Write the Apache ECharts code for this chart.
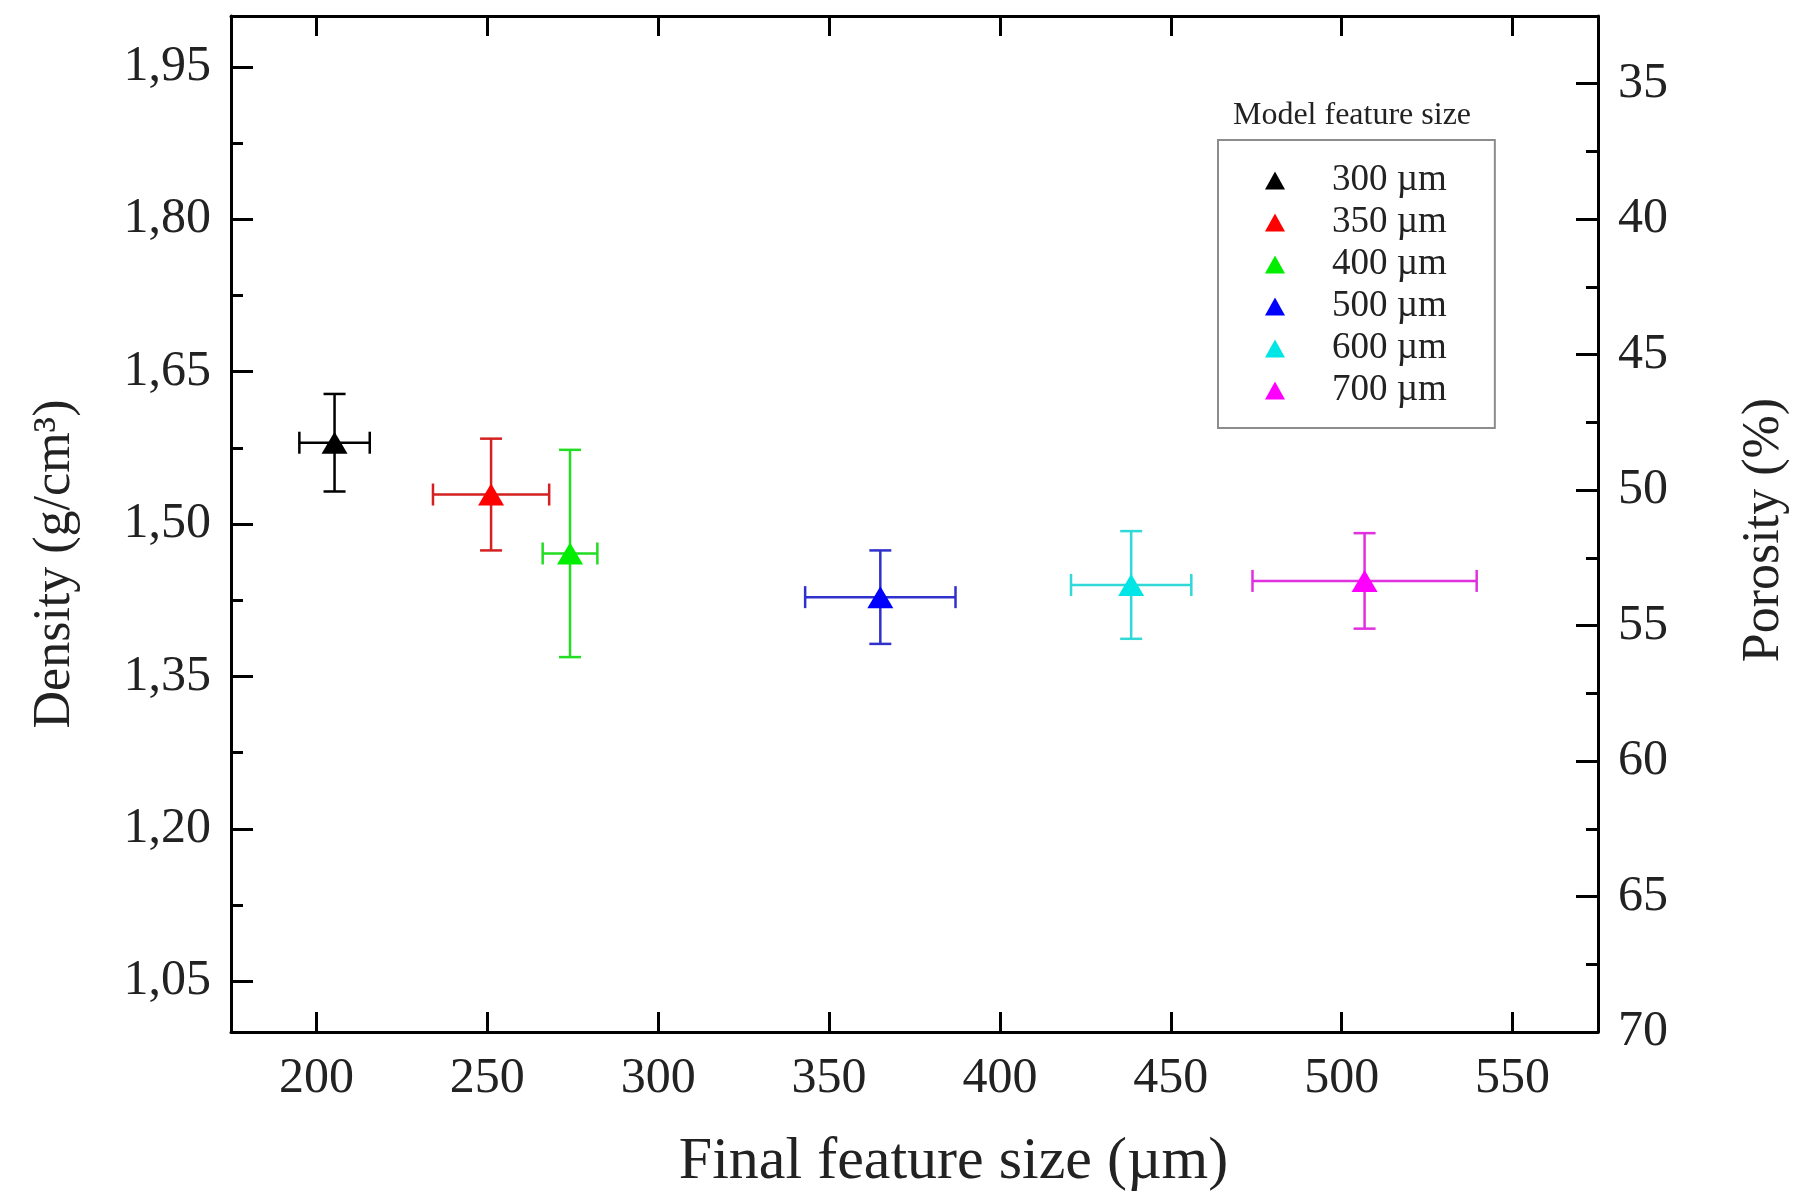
<!DOCTYPE html>
<html>
<head>
<meta charset="utf-8">
<title>Density vs final feature size</title>
<script src="https://cdn.jsdelivr.net/npm/echarts@6/dist/echarts.min.js"></script>
<style>
  html, body { margin: 0; padding: 0; background: #fff; }
  #chart { width: 1798px; height: 1199px; }
</style>
</head>
<body>
<div id="chart"></div>
<script>
  // model feature sizes (legend)
  var modelSizes = ['300 µm', '350 µm', '400 µm', '500 µm', '600 µm', '700 µm']
  var colors = ['#000000', '#ff0000', '#00ee00', '#0000ff', '#00e5e5', '#ff00ff']
  var barColors = ['#000000', '#d42020', '#22dd22', '#3030cc', '#30d8d8', '#e030e0']
  // final feature size (µm) and its error
  var finalSize = [205.3, 251.1, 274.2, 365.0, 438.4, 506.7]
  var finalSizeErr = [10.3, 17.0, 8.0, 22.0, 17.6, 32.8]
  // density (g/cm3) and its error
  var density = [1.580, 1.529, 1.471, 1.428, 1.440, 1.444]
  var densityErr = [0.048, 0.055, 0.102, 0.046, 0.053, 0.047]

  // axis ticks
  var xTicks = [200, 250, 300, 350, 400, 450, 500, 550]
  var densityTicks = [1.05, 1.20, 1.35, 1.50, 1.65, 1.80, 1.95]
  var densityMinor = [1.125, 1.275, 1.425, 1.575, 1.725, 1.875]
  var porosityTicks = [35, 40, 45, 50, 55, 60, 65, 70]
  var porosityMinor = [37.5, 42.5, 47.5, 52.5, 57.5, 62.5, 67.5]

  var font = "'Liberation Serif', 'Times New Roman', serif"
  var chart = echarts.init(document.getElementById('chart'))

  // draw x and y error bars through the axes
  function errorBar (params, api) {
    var x = api.value(0)
    var y = api.value(1)
    var ex = api.value(2)
    var ey = api.value(3)
    var l = api.coord([x - ex, y])
    var r = api.coord([x + ex, y])
    var t = api.coord([x, y + ey])
    var b = api.coord([x, y - ey])
    var cap = 11
    var style = {stroke: api.visual('color'), lineWidth: 2.5}
    return {
      type: 'group',
      children: [
        {type: 'line', shape: {x1: l[0], y1: l[1], x2: r[0], y2: r[1]}, style: style},
        {type: 'line', shape: {x1: l[0], y1: l[1] - cap, x2: l[0], y2: l[1] + cap}, style: style},
        {type: 'line', shape: {x1: r[0], y1: r[1] - cap, x2: r[0], y2: r[1] + cap}, style: style},
        {type: 'line', shape: {x1: t[0], y1: t[1], x2: b[0], y2: b[1]}, style: style},
        {type: 'line', shape: {x1: t[0] - cap, y1: t[1], x2: t[0] + cap, y2: t[1]}, style: style},
        {type: 'line', shape: {x1: b[0] - cap, y1: b[1], x2: b[0] + cap, y2: b[1]}, style: style}
      ]
    }
  }

  var series = []
  for (var i = 0; i < modelSizes.length; i++) {
    series.push({
      name: 'err' + i,
      type: 'custom',
      renderItem: errorBar,
      itemStyle: {color: barColors[i]},
      encode: {x: 0, y: 1},
      z: 2,
      data: [[finalSize[i], density[i], finalSizeErr[i], densityErr[i]]]
    })
    series.push({
      name: modelSizes[i],
      type: 'scatter',
      symbol: 'triangle',
      symbolSize: [26, 22],
      itemStyle: {color: colors[i], opacity: 1},
      z: 5,
      data: [[finalSize[i], density[i]]]
    })
  }

  var axisLine = {show: true, lineStyle: {color: '#000', width: 3}}

  var option = {
    backgroundColor: '#fff',
    animation: false,
    title: {
      text: 'Model feature size',
      left: 1352,
      top: 100,
      textAlign: 'center',
      padding: 0,
      textStyle: {fontFamily: font, fontSize: 32, fontWeight: 'normal', color: '#222'}
    },
    legend: {
      orient: 'vertical',
      left: 1218,
      top: 140,
      padding: [22, 48, 19, 47],
      borderColor: '#8c8c8c',
      borderWidth: 2,
      itemGap: 5,
      itemWidth: 20,
      itemHeight: 18,
      icon: 'triangle',
      itemStyle: {opacity: 1},
      textStyle: {fontFamily: font, fontSize: 37, color: '#222', padding: [0, 0, 0, 42]},
      data: modelSizes
    },
    grid: {left: 231, right: 199, top: 16, bottom: 167},
    xAxis: [
      {
        type: 'value',
        position: 'bottom',
        min: 175,
        max: 575,
        name: 'Final feature size (µm)',
        nameLocation: 'middle',
        nameGap: 100,
        nameTextStyle: {fontFamily: font, fontSize: 60, color: '#222', padding: [0, 0, 0, 78]},
        axisLine: axisLine,
        axisTick: {show: true, inside: true, length: 20, customValues: xTicks, lineStyle: {color: '#000', width: 3}},
        axisLabel: {customValues: xTicks, margin: 22, fontFamily: font, fontSize: 50, color: '#222'},
        splitLine: {show: false}
      },
      {
        type: 'value',
        position: 'top',
        min: 175,
        max: 575,
        axisLine: axisLine,
        axisTick: {show: true, inside: true, length: 20, customValues: xTicks, lineStyle: {color: '#000', width: 3}},
        axisLabel: {show: false},
        splitLine: {show: false}
      }
    ],
    yAxis: [
      {
        type: 'value',
        position: 'left',
        min: 1.0,
        max: 2.0,
        name: 'Density (g/cm³)',
        nameLocation: 'middle',
        nameGap: 150,
        nameTextStyle: {fontFamily: font, fontSize: 52, color: '#222', padding: [0, 80, 0, 0]},
        axisLine: axisLine,
        axisTick: {show: true, inside: true, length: 22, customValues: densityTicks, lineStyle: {color: '#000', width: 3}},
        axisLabel: {
          customValues: densityTicks,
          margin: 20,
          fontFamily: font,
          fontSize: 50,
          color: '#222',
          formatter: function (v) {
            return v.toFixed(2).replace('.', ',')
          }
        },
        splitLine: {show: false}
      },
      {
        type: 'value',
        position: 'right',
        inverse: true,
        min: 32.5,
        max: 70,
        name: 'Porosity (%)',
        nameLocation: 'middle',
        nameGap: 140,
        nameTextStyle: {fontFamily: font, fontSize: 52, color: '#222', padding: [0, 12, 0, 0]},
        axisLine: axisLine,
        axisTick: {show: true, inside: true, length: 22, customValues: porosityTicks, lineStyle: {color: '#000', width: 3}},
        axisLabel: {customValues: porosityTicks, margin: 20, fontFamily: font, fontSize: 50, color: '#222'},
        splitLine: {show: false}
      },
      {
        type: 'value',
        position: 'left',
        min: 1.0,
        max: 2.0,
        axisLine: {show: false},
        axisTick: {show: true, inside: true, length: 12, customValues: densityMinor, lineStyle: {color: '#000', width: 3}},
        axisLabel: {show: false},
        splitLine: {show: false}
      },
      {
        type: 'value',
        position: 'right',
        inverse: true,
        min: 32.5,
        max: 70,
        axisLine: {show: false},
        axisTick: {show: true, inside: true, length: 12, customValues: porosityMinor, lineStyle: {color: '#000', width: 3}},
        axisLabel: {show: false},
        splitLine: {show: false}
      }
    ],
    series: series
  }

  chart.setOption(option)
</script>
</body>
</html>
